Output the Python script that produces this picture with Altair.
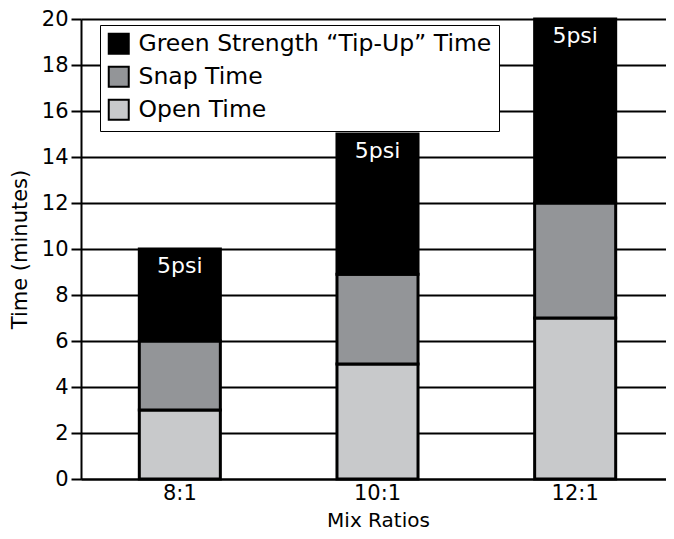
import altair as alt
import pandas as pd

ratios = ["8:1", "10:1", "12:1"]
phases = ["Open Time", "Snap Time", "Green Strength \u201cTip-Up\u201d Time"]
open_time = [3, 5, 7]
snap_time = [3, 3.9, 5]
green_time = [4, 6.1, 8]
psi_labels = ["5psi", "5psi", "5psi"]
colors = {"Open Time": "#c8c9cb", "Snap Time": "#939598",
          "Green Strength \u201cTip-Up\u201d Time": "#000000"}

rows = []
for i, r in enumerate(ratios):
    for k, (ph, vals) in enumerate(zip(phases, [open_time, snap_time, green_time])):
        rows.append({"ratio": r, "phase": ph, "value": vals[i], "ord": k})
df = pd.DataFrame(rows)
df_tot = pd.DataFrame({
    "ratio": ratios,
    "total": [o + s + g for o, s, g in zip(open_time, snap_time, green_time)],
    "label": psi_labels,
})

FONT = "DejaVu Sans"
legend_order = phases[::-1]

x_enc = alt.X("ratio:N", sort=ratios,
              scale=alt.Scale(paddingInner=0.59, paddingOuter=0.295, range=[0, 593]),
              axis=alt.Axis(title="Mix Ratios", labelAngle=0, ticks=False,
                            domainColor="black", domainWidth=2,
                            labelFontSize=21, labelColor="black", labelPadding=3,
                            titleFontSize=20, titleFontWeight="normal",
                            titleColor="black", titleBaseline="alphabetic",
                            titleY=47, titleX=297,
                            labelFont=FONT, titleFont=FONT))

bars = alt.Chart(df).mark_bar(stroke="black", strokeWidth=3).encode(
    x=x_enc,
    y=alt.Y("value:Q", stack="zero",
            scale=alt.Scale(domain=[0, 20], nice=False),
            axis=alt.Axis(title="Time (minutes)", values=list(range(0, 21, 2)),
                          domainColor="black", domainWidth=2,
                          tickColor="black", tickWidth=2, tickSize=10,
                          grid=True, gridColor="black", gridWidth=2, gridOpacity=1,
                          labelFontSize=21, labelColor="black", labelPadding=3,
                          titleFontSize=21, titleFontWeight="normal",
                          titleColor="black", titlePadding=11,
                          labelFont=FONT, titleFont=FONT)),
    color=alt.Color("phase:N",
                    scale=alt.Scale(domain=legend_order,
                                    range=[colors[p] for p in legend_order]),
                    sort=legend_order,
                    legend=alt.Legend(title=None, orient="none", legendX=19, legendY=6,
                                      strokeColor="black", fillColor="white",
                                      padding=7, symbolType="square", symbolSize=400,
                                      symbolStrokeColor="black", symbolStrokeWidth=2,
                                      symbolOpacity=1,
                                      labelFontSize=23.5, labelColor="black",
                                      labelFont=FONT, labelOffset=8, rowPadding=4,
                                      labelLimit=0)),
    order=alt.Order("ord:Q"),
)

texts = alt.Chart(df_tot).mark_text(color="white", fontSize=22, font=FONT,
                                    baseline="middle", dy=17).encode(
    x=alt.X("ratio:N", sort=ratios),
    y=alt.Y("total:Q"),
    text="label:N",
)

chart = alt.layer(bars, texts).properties(
    width=585, height=460,
    autosize=alt.AutoSizeParams(type="none"),
    padding={"left": 73, "top": 11, "right": 0, "bottom": 52},
).configure_view(stroke=None).configure_legend(strokeWidth=2).configure(background="white")

chart.save("out.html", embed_options={"renderer": "svg", "actions": False})
